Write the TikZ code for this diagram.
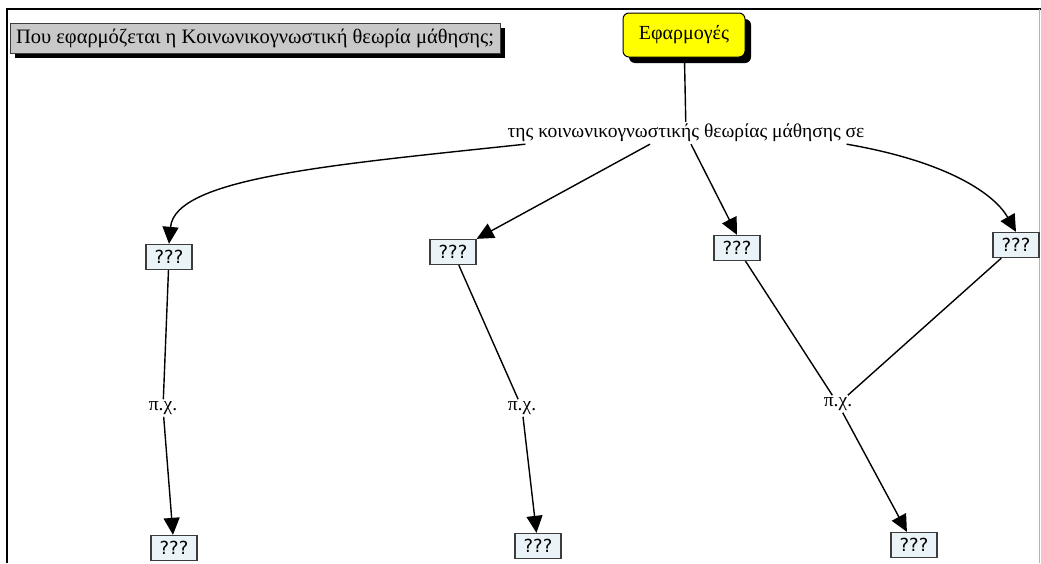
\documentclass[tikz,border=0pt]{standalone}
\usepackage{fontspec}
\setmainfont{Liberation Serif}
\newfontfamily\boxfont{DejaVu Sans}
\usetikzlibrary{arrows.meta,shadows}
\definecolor{conceptyellow}{RGB}{255,255,0}
\definecolor{titlegray}{RGB}{200,200,200}
\definecolor{qfill}{RGB}{234,244,248}
\definecolor{qdraw}{RGB}{60,60,60}
\tikzset{
  x=1pt,y=-1pt,
  titlebox/.style={draw=qdraw,line width=1pt,fill=titlegray,minimum width=490pt,minimum height=30pt,
    inner sep=0pt,font=\fontsize{20.5}{23}\selectfont,
    drop shadow={shadow xshift=5pt,shadow yshift=-5pt,fill=black,opacity=1}},
  conceptbox/.style={draw=black,line width=1pt,fill=conceptyellow,rounded corners=6pt,
    minimum width=122pt,minimum height=44pt,inner sep=0pt,font=\fontsize{20}{22}\selectfont,
    drop shadow={shadow xshift=6pt,shadow yshift=-6pt,fill=black,opacity=1}},
  qbox/.style={draw=qdraw,line width=1.3pt,fill=qfill,minimum width=46pt,minimum height=25pt,
    inner sep=0pt,font=\boxfont\fontsize{18}{20}\selectfont},
  linklabel/.style={inner sep=2pt,font=\fontsize{19.5}{22}\selectfont},
  link/.style={line width=1.4pt,black},
  arrowlink/.style={link,-{Triangle[length=17pt,width=16pt]}}
}
\begin{document}
\begin{tikzpicture}
\useasboundingbox (0,0) rectangle (1041,563);
% frame
\draw[line width=1.6pt] (7,563) -- (7,9) -- (1041,9);
\draw[line width=1pt,gray!60] (1039.5,9) -- (1039.5,563);

% nodes
\node[titlebox] (title) at (255,38) {Που εφαρμόζεται η Κοινωνικογνωστική θεωρία μάθησης;};
\node[conceptbox] (app) at (684,35) {Εφαρμογές};
\node[linklabel] (rel) at (686,133) {της κοινωνικογνωστικής θεωρίας μάθησης σε};

\node[qbox] (q1) at (169,257) {???};
\node[qbox] (q2) at (453,252) {???};
\node[qbox] (q3) at (737,248) {???};
\node[qbox] (q4) at (1016,245) {???};

\node[linklabel] (e1) at (163,408) {π.χ.};
\node[linklabel] (e2) at (522,408) {π.χ.};
\node[linklabel] (e3) at (838,404) {π.χ.};

\node[qbox] (q5) at (174,548) {???};
\node[qbox] (q6) at (538,546) {???};
\node[qbox] (q7) at (914,545) {???};

% connectors
\draw[link] (app) -- (rel);
\draw[arrowlink] ([xshift=20pt]rel.south west) .. controls (330,165) and (175,178) .. (q1.north);
\draw[arrowlink] ([xshift=-36pt]rel.south) -- (q2.north east);
\draw[arrowlink] ([xshift=5pt]rel.south) -- (q3.north);
\draw[arrowlink] ([xshift=-20pt]rel.south east) .. controls (950,162) and (995,195) .. (q4.north);

\draw[link] (q1) -- (e1);
\draw[link] (q2) -- (e2);
\draw[link] (q3) -- (e3);
\draw[link] (q4) -- (e3);

\draw[arrowlink] (e1) -- (q5);
\draw[arrowlink] (e2) -- (q6);
\draw[arrowlink] (e3) -- (q7);
\end{tikzpicture}
\end{document}
